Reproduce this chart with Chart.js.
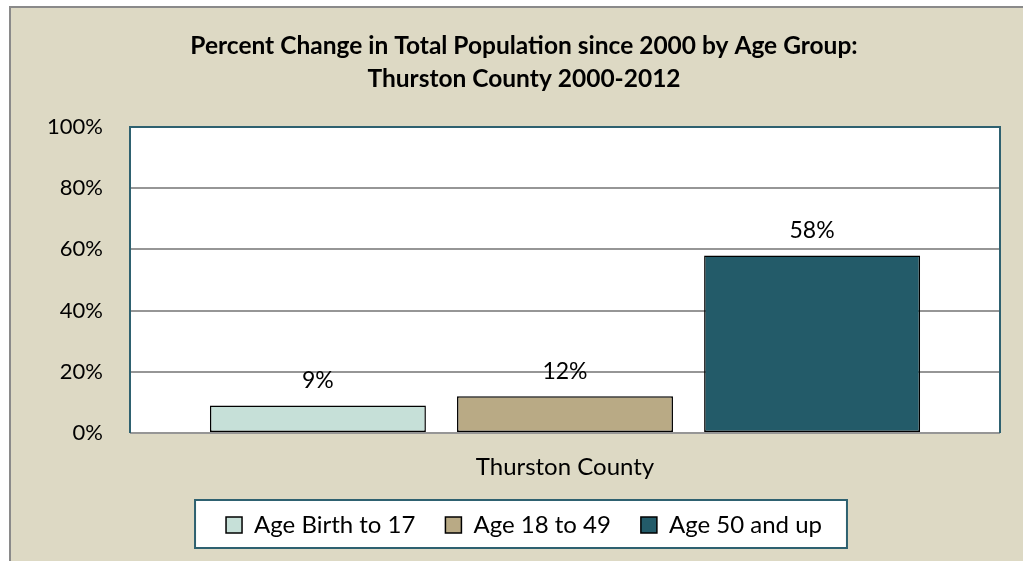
<!DOCTYPE html>
<html>
<head>
<meta charset="utf-8">
<script src="https://cdn.jsdelivr.net/npm/chart.js@4.4.1/dist/chart.umd.min.js"></script>
<style>
  html, body { margin: 0; padding: 0; background: #fff; }
  canvas { display: block; }
</style>
</head>
<body>
<canvas id="chart" width="1023" height="561"></canvas>
<script>
const categories = ['Thurston County'];
const seriesNames = ['Age Birth to 17', 'Age 18 to 49', 'Age 50 and up'];
const seriesValues = [[9], [12], [58]];
const seriesColors = ['#C6E0D8', '#B9AA85', '#235B69'];
const titleLines = ['Percent Change in Total Population since 2000 by Age Group:', 'Thurston County 2000-2012'];

const FONT = "Lato, 'Open Sans', sans-serif";
const BEIGE = '#DDD9C4';
const TEAL = '#2E6170';

Chart.defaults.font.family = FONT;
Chart.defaults.color = '#000';

// background, outer frame, plot area fill, legend frame
const backdrop = {
  id: 'backdrop',
  beforeDraw(chart) {
    const { ctx, chartArea: a } = chart;
    ctx.save();
    ctx.fillStyle = '#fff';
    ctx.fillRect(0, 0, chart.width, chart.height);
    ctx.fillStyle = BEIGE;
    ctx.fillRect(10, 7, chart.width, chart.height);
    ctx.strokeStyle = '#8a8a8a';
    ctx.lineWidth = 2;
    ctx.beginPath();
    ctx.moveTo(10, chart.height);
    ctx.lineTo(10, 7);
    ctx.lineTo(chart.width, 7);
    ctx.stroke();

    ctx.fillStyle = '#fff';
    ctx.fillRect(a.left, a.top, a.right - a.left, a.bottom - a.top);

    const hb = chart.legend.legendHitBoxes;
    if (hb && hb.length) {
      const first = hb[0], last = hb[hb.length - 1];
      const x0 = first.left - 31;
      const x1 = last.left + last.width + 25;
      const cy = first.top + first.height / 2 - 1;
      ctx.fillStyle = '#fff';
      ctx.fillRect(x0, cy - 24, x1 - x0, 48);
      ctx.strokeStyle = TEAL;
      ctx.lineWidth = 2;
      ctx.strokeRect(x0, cy - 24, x1 - x0, 48);
    }
    ctx.restore();
  },
  beforeDatasetsDraw(chart) {
    const { ctx, chartArea: a } = chart;
    ctx.save();
    ctx.strokeStyle = TEAL;
    ctx.lineWidth = 2;
    ctx.beginPath();
    ctx.moveTo(a.left, a.bottom);
    ctx.lineTo(a.left, a.top);
    ctx.lineTo(a.right, a.top);
    ctx.lineTo(a.right, a.bottom);
    ctx.stroke();
    ctx.restore();
  }
};

// value labels above bars
const valueLabels = {
  id: 'valueLabels',
  afterDatasetsDraw(chart) {
    const { ctx } = chart;
    ctx.save();
    ctx.font = '23px ' + FONT;
    ctx.fillStyle = '#000';
    ctx.textAlign = 'center';
    ctx.textBaseline = 'middle';
    chart.data.datasets.forEach((ds, i) => {
      chart.getDatasetMeta(i).data.forEach((bar, j) => {
        ctx.fillText(ds.data[j] + '%', bar.x, bar.y - 25);
      });
    });
    ctx.restore();
  }
};

new Chart(document.getElementById('chart'), {
  type: 'bar',
  data: {
    labels: categories,
    datasets: seriesNames.map((name, i) => ({
      label: name,
      data: seriesValues[i],
      backgroundColor: seriesColors[i],
      borderColor: '#000',
      borderWidth: 1.5,
      borderSkipped: false,
      categoryPercentage: 0.852,
      barPercentage: 0.874
    }))
  },
  options: {
    responsive: false,
    animation: false,
    layout: { padding: { left: 48, right: 23, top: 0, bottom: 14 } },
    scales: {
      x: {
        grid: { display: false, drawTicks: false },
        border: { display: false },
        ticks: { font: { size: 24 }, padding: 20, color: '#000' },
        afterFit: s => { s.height = 50; }
      },
      y: {
        min: 0,
        max: 100,
        ticks: { stepSize: 20, font: { size: 22 }, padding: 27, color: '#000', callback: v => v + '%' },
        grid: {
          drawTicks: false,
          lineWidth: 2,
          color: c => (c.tick && c.tick.value === 100) ? 'rgba(0,0,0,0)' : '#969696'
        },
        border: { display: false },
        afterFit: s => { s.width = 82; }
      }
    },
    plugins: {
      title: {
        display: true,
        text: titleLines,
        color: '#000',
        font: { size: 24.5, weight: 'bold', lineHeight: 1.347 },
        padding: { top: 30, bottom: 31 }
      },
      legend: {
        position: 'bottom',
        labels: { font: { size: 24 }, boxWidth: 16, boxHeight: 16, padding: 30, color: '#000' }
      },
      tooltip: { enabled: false }
    }
  },
  plugins: [backdrop, valueLabels]
});
</script>
</body>
</html>
